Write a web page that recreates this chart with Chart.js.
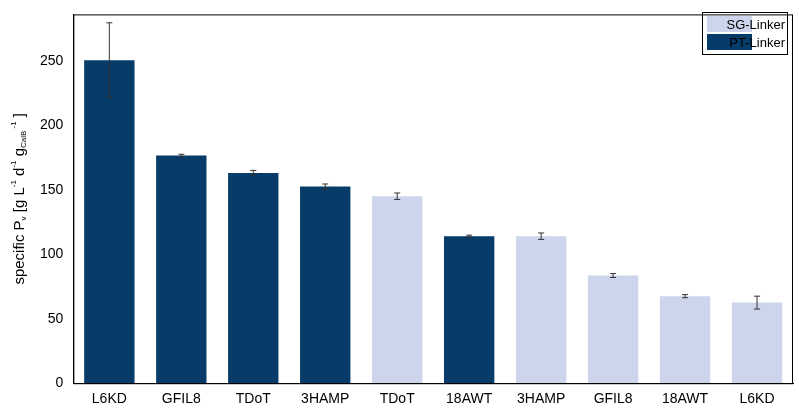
<!DOCTYPE html>
<html>
<head>
<meta charset="utf-8">
<script src="https://cdn.jsdelivr.net/npm/chart.js@4"></script>
<style>
  body { margin: 0; background: #fff; }
  #wrap { width: 799px; height: 416px; }
</style>
</head>
<body>
<div id="wrap"><canvas id="barChart"></canvas></div>
<script>
// Specific productivity per linker construct
const categories = ['L6KD', 'GFIL8', 'TDoT', '3HAMP', 'TDoT', '18AWT', '3HAMP', 'GFIL8', '18AWT', 'L6KD'];
const linkerType = ['PT', 'PT', 'PT', 'PT', 'SG', 'PT', 'SG', 'SG', 'SG', 'SG'];
const values = [250.5, 176.5, 163, 152.5, 145, 114, 114, 83.5, 67.5, 62.5];
const errors = [29, 1, 2, 2, 2.5, 0.8, 2.5, 1.5, 1.2, 5];
const yTicks = [0, 50, 100, 150, 200, 250];

const SG_COLOR = '#cdd5ec';
const PT_COLOR = '#073b69';
const FONT = 'Liberation Sans, Arial, sans-serif';

// error bars, axis title with sub/superscripts, boxed legend
const extras = {
    id: 'extras',
    afterDatasetsDraw(chart) {
        const c = chart.ctx, x = chart.scales.x, y = chart.scales.y, a = chart.chartArea;
        c.save();
        c.strokeStyle = '#333';
        c.lineWidth = 1;
        values.forEach((v, i) => {
            const px = x.getPixelForValue(i);
            const top = y.getPixelForValue(v + errors[i]);
            const bot = y.getPixelForValue(v - errors[i]);
            c.beginPath();
            c.moveTo(px, top); c.lineTo(px, bot);
            c.moveTo(px - 3, top); c.lineTo(px + 3, top);
            c.moveTo(px - 3, bot); c.lineTo(px + 3, bot);
            c.stroke();
        });

        // frame
        c.strokeStyle = '#000';
        c.strokeRect(a.left + 0.5, a.top + 0.5, a.right - a.left - 1, a.bottom - a.top);

        // legend
        const lx = 702, ly = 12;
        c.strokeRect(lx + 0.5, ly + 0.5, 85, 42);
        c.fillStyle = SG_COLOR; c.fillRect(lx + 5, ly + 4, 45, 16);
        c.fillStyle = PT_COLOR; c.fillRect(lx + 5, ly + 22, 45, 16);
        c.fillStyle = '#000';
        c.font = '13px ' + FONT;
        c.textBaseline = 'middle';
        c.textAlign = 'right';
        c.fillText('SG-Linker', lx + 83, ly + 13);
        c.fillText('PT-Linker', lx + 83, ly + 31);

        // y-axis title
        c.translate(20, (a.top + a.bottom) / 2);
        c.rotate(-Math.PI / 2);
        const parts = [
            ['specific P', 15, 0], ['v', 8, 4], [' [g L', 15, 0], ['-1', 8, -6], [' d', 15, 0],
            ['-1', 8, -6], [' g', 15, 0], ['CalB', 8, 4], [' -1', 8, -6], [' ]', 15, 0]
        ];
        let total = 0;
        parts.forEach(p => { c.font = p[1] + 'px ' + FONT; total += c.measureText(p[0]).width; });
        let cx = -total / 2;
        c.textAlign = 'left';
        parts.forEach(p => {
            c.font = p[1] + 'px ' + FONT;
            c.fillText(p[0], cx, p[2]);
            cx += c.measureText(p[0]).width;
        });
        c.restore();
    }
};

new Chart(document.getElementById('barChart'), {
    type: 'bar',
    data: {
        labels: categories,
        datasets: [{
            data: values,
            backgroundColor: linkerType.map(t => t === 'SG' ? SG_COLOR : PT_COLOR),
            barPercentage: 0.7,
            categoryPercentage: 1
        }]
    },
    options: {
        responsive: true,
        maintainAspectRatio: false,
        animation: false,
        layout: { padding: { left: 34, right: 6, top: 5, bottom: 0 } },
        plugins: { legend: { display: false }, tooltip: { enabled: false } },
        scales: {
            x: {
                grid: { display: false, drawTicks: false },
                border: { color: '#000' },
                ticks: { color: '#000', font: { family: FONT, size: 14 }, padding: 8 }
            },
            y: {
                min: 0,
                max: 286,
                afterBuildTicks(axis) { axis.ticks = yTicks.map(v => ({ value: v })); },
                grid: { display: false, drawTicks: true, tickLength: 4, tickColor: '#000' },
                border: { color: '#000' },
                ticks: { color: '#000', font: { family: FONT, size: 14 }, padding: 6 }
            }
        }
    },
    plugins: [extras]
});
</script>
</body>
</html>
